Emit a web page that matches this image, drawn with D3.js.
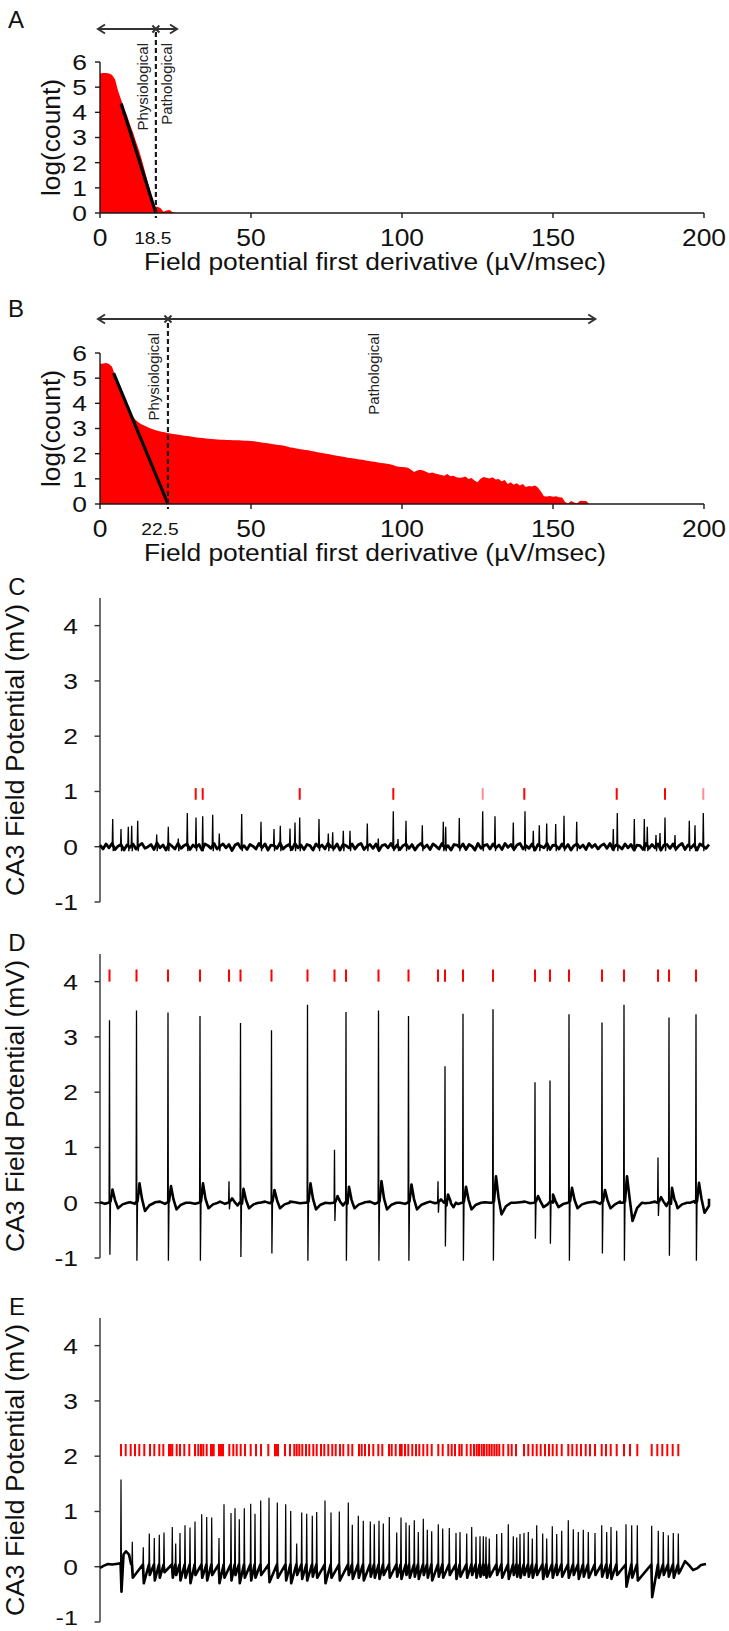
<!DOCTYPE html>
<html><head><meta charset="utf-8">
<script src="https://cdn.jsdelivr.net/npm/d3@7"></script>
<style>body{margin:0;background:#fff}svg{display:block}text{font-family:"Liberation Sans",Arial,sans-serif}</style>
</head><body><svg id="c" width="729" height="1631"></svg>
<script>
// ---------- DATA ----------
// Panel A / B: log(count) per 1 µV/msec bin (bin index = derivative value)
const histA = [5.54,5.56,5.56,5.54,5.48,5.3,4.85,4.5,4.15,3.85,3.5,3.18,2.8,2.45,2.05,1.6,1.15,0.7,0.25,0.25,0.2,0.05,0.1,0.12,0.04,0];
const histB = [5.56,5.58,5.6,5.56,5.45,5.09,4.8,4.5,4.2,3.9,
 3.65,3.45,3.32,3.22,3.15,3.1,3.04,2.99,2.95,2.91,
 2.88,2.86,2.83,2.81,2.78,2.77,2.75,2.73,2.71,2.7,
 2.68,2.66,2.64,2.63,2.62,2.6,2.59,2.58,2.57,2.56,
 2.55,2.55,2.54,2.54,2.53,2.53,2.53,2.52,2.51,2.51,
 2.5,2.49,2.47,2.45,2.43,2.42,2.4,2.38,2.36,2.34,
 2.33,2.31,2.28,2.25,2.24,2.21,2.19,2.17,2.15,2.14,
 2.11,2.09,2.06,2.04,2.02,2.0,1.98,1.95,1.93,1.91,
 1.89,1.87,1.84,1.83,1.81,1.79,1.77,1.76,1.73,1.71,
 1.69,1.68,1.65,1.63,1.62,1.6,1.58,1.55,1.5,1.48,
 1.47,1.46,1.44,1.36,1.27,1.33,1.36,1.33,1.28,1.22,
 1.25,1.21,1.18,1.15,1.12,1.19,1.1,1.12,1.06,1.04,
 1.05,1.09,0.99,1.03,0.93,0.86,1.0,1.07,1.04,1.01,
 1.06,0.97,0.99,0.9,0.95,0.79,0.86,0.76,0.82,0.74,
 0.79,0.68,0.72,0.7,0.74,0.66,0.5,0.31,0.3,0.32,
 0.29,0.31,0.27,0.26,0.08,0.02,0.12,0.06,0.03,0.13,
 0.12,0.12,0];
const fitA = [[7,4.35],[18.5,0]];
const fitB = [[4.5,5.2],[22.5,0]];
const thresholdA = 18.5, thresholdB = 22.5;
const arrowA = [0, 18.5, 25.5];
const arrowB = [0, 22.5, 164];
const histXTicks = [0,50,100,150,200];
const histYTicks = [0,1,2,3,4,5,6];
const xTitle = "Field potential first derivative (µV/msec)";

// Panels C, D, E: time in s, potential in mV
const traceTicks = [-1,0,1,2,3,4];
const traceTitle = "CA3 Field Potential (mV)";

const cNoise = [0.03,-0.04,0.05,-0.02,0.06,-0.05,0.01,0.04,-0.06,0.03,-0.01,0.05,-0.04,0.02,0.06,-0.03,0.00,
0.04,-0.05,0.07,-0.02,0.03,-0.06,0.05,0.01,-0.04,0.06,-0.03,0.02,0.05,-0.05,0.03,-0.01,0.04,
-0.06,0.05,0.02,-0.03,0.06,-0.04,0.01,0.05,-0.02,0.04,-0.07,0.03,0.06,-0.03,0.02,-0.05,0.04,
0.01,-0.04,0.06,-0.02,0.05,-0.06,0.03,0.02,-0.03,0.07,-0.04,0.01,0.04,-0.05,0.06,-0.02,0.03,
-0.05,0.04,0.02,-0.06,0.05,-0.01,0.03,-0.04,0.06,0.00,-0.03,0.05,-0.06,0.04,0.02,-0.02,0.05,
-0.04,0.03,0.06,-0.05,0.01,0.04,-0.03,0.05,-0.07,0.02,0.04,-0.02,0.06,-0.04,0.03,-0.05,0.02,
0.05,-0.03,0.04,-0.06,0.02,0.06,-0.02,0.03,-0.05,0.05,0.01,-0.04,0.06,-0.03,0.02,-0.06,0.04,
0.03,-0.02,0.05,-0.05,0.04,0.01,-0.06,0.06,-0.03,0.02,0.04,-0.04,0.05,-0.02,0.03,-0.05,0.06,
-0.01,0.04,-0.05,0.03,0.06,-0.04,0.02,-0.03,0.05,-0.06,0.04,0.01,-0.02,0.06,-0.05,0.03,0.02,
-0.04,0.05,-0.03,0.04,-0.06,0.02,0.05,-0.02,0.03,-0.05,0.06,-0.01,0.04,-0.04,0.02,0.05,-0.03,
0.06,-0.05,0.03,0.01,-0.04,0.05,-0.02,0.04,-0.06,0.03,0.02,-0.05,0.06,-0.03,0.04,-0.02,0.05,
-0.06,0.03,0.04,-0.03,0.05,-0.04,0.02,0.06,-0.05,0.03,-0.02,0.04,-0.06,0.05,0.01,-0.03,0.04];
const cNoiseStep = 0.3;
const cSpikeT = [1.27,2.1,2.83,3.17,3.77,5.67,6.83,7.83,8.73,9.6,10.27,11.27,11.93,14.17,16.1,17.4,18.03,19.0,19.5,19.97,21.9,22.83,23.27,24.33,25.0,26.73,27.83,29.33,29.8,
 30.6,32.23,34.33,34.57,35.93,38.27,39.5,41.33,42.5,43.33,43.93,44.67,45.57,46.4,47.67,51.33,51.73,53.43,54.43,54.73,55.6,56.0,56.5,57.5,58.93,59.5,60.33];
const cPeak = [0.5,0.32,0.36,0.38,0.47,0.22,0.36,0.15,0.61,0.53,0.55,0.58,0.24,0.59,0.45,0.32,0.38,0.33,0.44,0.53,0.5,0.24,0.26,0.29,0.29,0.42,0.15,0.64,0.14,
 0.47,0.39,0.45,0.36,0.52,0.64,0.55,0.44,0.64,0.29,0.39,0.42,0.41,0.56,0.45,0.32,0.61,0.5,0.5,0.36,0.21,0.25,0.53,0.21,0.47,0.39,0.61];
const cMarks = [9.57,10.27,19.97,29.33,42.43,51.67,56.5];
const cMarksFaint = [38.27,60.33];

const dNoise = [0.01,-0.02,0.02,0.0,-0.01,0.02,0.01,-0.02,0.0,0.02,
 -0.01,0.01,0.02,-0.02,0.0,0.01,-0.01,0.02,0.0,-0.02,
 0.01,0.02,-0.01,0.0,0.02,-0.02,0.01,0.0,-0.01,0.02,
 0.01,-0.02,0.0,0.02,-0.01,0.01,0.0,-0.02,0.02,0.01,
 -0.01,0.0,0.02,-0.02,0.01,0.02,-0.01,0.0,0.01,-0.02,
 0.02,0.0,-0.01,0.01,0.02,-0.02,0.0,0.01,-0.01,0.02,
 0.0,-0.02,0.01,0.02,-0.01,0.0,0.02,-0.01,0.01,0.0,
 -0.02,0.02,0.01,-0.01,0.0,0.02,-0.02,0.01,0.0,-0.01,
 0.02,0.01,-0.02,0.0,0.01,0.02,-0.01,0.0,-0.02,0.01,
 0.02,-0.01,0.0,0.01,-0.02,0.02,0.0,-0.01,0.01,0.02,
 -0.02,0.0,0.01,-0.01,0.02,0.0,-0.02,0.01,0.02,-0.01,
 0.0,0.02,-0.01,0.01,0.0,-0.02,0.01,0.02,0.0,0.03,
 0.05,0.08];
const dNoiseStep = 0.5;
const dSpikeT = [0.95,3.65,6.8,10.0,12.9,14.05,17.15,20.75,23.45,24.6,27.85,30.85,33.8,34.5,36.3,39.3,43.5,45.0,46.9,50.2,52.4,55.8,56.9,59.6];
const dPeak = [3.30,3.48,3.44,3.38,0.39,3.25,3.12,3.58,0.96,3.45,3.48,3.38,0.39,2.47,3.42,3.50,2.18,2.21,3.41,3.26,3.58,0.82,3.35,3.41];
const dTrough = [-0.94,-1.05,-1.05,-1.05,-0.12,-0.98,-0.92,-1.05,-0.33,-1.05,-1.05,-1.05,-0.18,-0.79,-1.05,-1.05,-0.65,-0.74,-1.05,-0.92,-1.05,-0.24,-0.96,-1.05];
const dBump = [0.24,0.35,0.3,0.35,0.08,0.25,0.23,0.35,0.12,0.29,0.39,0.33,0.06,0.15,0.29,0.48,0.12,0.15,0.27,0.23,0.48,0.1,0.27,0.36];
const dDip = [-0.1,-0.15,-0.12,-0.1,-0.05,-0.1,-0.1,-0.12,-0.05,-0.1,-0.12,-0.12,-0.05,-0.08,-0.12,-0.21,-0.08,-0.08,-0.1,-0.1,-0.33,-0.06,-0.1,-0.18];
const dMarks = [0.95,3.65,6.8,10.0,12.9,14.05,17.15,20.75,23.45,24.6,27.85,30.85,33.8,34.5,36.3,39.3,43.5,45.0,46.9,50.2,52.4,55.8,56.9,59.6];
const dEnd = [60.9, 0.07];

const eBase = [[0,-0.02],[0.4,0.02],[0.8,0.05],[1.2,0.04],[1.6,0.05],[2.0,0.06],[2.35,0.22],[2.6,0.28],[2.9,0.22],[3.1,0.05],
 [58.1,-0.05],[58.5,0.1],[58.9,0.03],[59.3,-0.06],[59.7,-0.03],[60.1,0.03],[60.6,0.05]];
const eSpikeT = [2.1,3.23,4.33,4.93,5.43,5.93,6.4,7.23,7.57,8.0,8.5,9.0,9.5,10.17,10.67,11.17,11.9,12.4,13.1,13.5,13.93,14.43,15.07,15.5,16.07,16.9,17.73,18.57,19.07,19.67,20.17,20.67,21.23,21.67,22.5,23.1,23.93,24.83,25.23,25.83,26.33,27.03,27.43,27.9,28.33,28.93,29.67,30.1,
 30.6,30.93,31.43,31.83,32.33,32.73,33.17,33.83,34.27,34.93,35.6,36.0,36.67,37.17,37.6,38.0,38.33,38.6,38.93,39.67,40.17,40.83,41.33,41.67,42.0,42.4,42.83,43.23,43.67,44.27,44.67,45.23,45.67,46.17,46.83,47.33,47.83,48.33,48.83,49.5,50.17,50.67,51.1,51.67,52.6,53.17,53.73,55.17,55.83,56.33,56.83,57.33,57.83];
const ePeak = [1.58,0.45,0.35,0.6,0.52,0.58,0.62,0.72,0.42,0.61,0.75,0.71,0.82,0.95,0.9,0.89,0.52,1.13,0.97,1.06,0.86,1.06,1.14,0.96,1.2,1.25,1.16,1.13,1.01,0.42,0.98,0.96,0.92,0.99,1.2,0.98,1.0,1.16,0.76,0.92,0.83,0.82,0.77,0.83,0.78,0.9,0.62,0.89,
 0.8,0.75,0.84,0.63,0.87,0.67,0.64,0.77,0.69,0.7,0.61,0.63,0.6,0.72,0.54,0.55,0.55,0.54,0.51,0.59,0.61,0.77,0.55,0.53,0.59,0.61,0.63,0.51,0.75,0.6,0.51,0.73,0.59,0.65,0.84,0.68,0.63,0.67,0.63,0.61,0.75,0.63,0.72,0.65,0.77,0.75,0.75,0.74,0.65,0.63,0.57,0.61,0.6];
const eTrough = [-0.45,-0.2,-0.3,-0.15,-0.25,-0.2,-0.1,-0.2,-0.15,-0.25,-0.2,-0.3,-0.15,-0.2,-0.25,-0.15,-0.3,-0.2,-0.25,-0.15,-0.3,-0.2,-0.25,-0.2,-0.15,-0.28,-0.2,-0.25,-0.3,-0.15,-0.22,-0.25,-0.18,-0.2,-0.3,-0.2,-0.25,-0.15,-0.22,-0.2,-0.25,-0.18,-0.2,-0.22,-0.15,-0.2,-0.18,-0.22,
 -0.15,-0.2,-0.18,-0.22,-0.15,-0.2,-0.25,-0.18,-0.2,-0.15,-0.22,-0.18,-0.2,-0.15,-0.2,-0.18,-0.15,-0.2,-0.18,-0.15,-0.2,-0.22,-0.15,-0.18,-0.2,-0.15,-0.18,-0.2,-0.15,-0.22,-0.18,-0.2,-0.15,-0.18,-0.2,-0.15,-0.22,-0.18,-0.2,-0.15,-0.18,-0.2,-0.22,-0.15,-0.36,-0.2,-0.25,-0.55,-0.2,-0.15,-0.18,-0.2,-0.12];
const eMarks = [2.1,2.57,3.07,3.5,3.93,4.43,5.0,5.43,5.93,6.33,6.9,7.07,7.23,7.67,8.0,8.43,8.93,9.5,9.83,10.1,10.33,10.67,11.1,11.23,11.37,11.9,12.1,12.3,12.93,13.33,13.67,14.07,14.5,15.07,15.6,16.1,16.83,17.5,17.67,17.8,18.5,19.0,19.43,19.67,19.93,20.23,20.6,20.93,21.33,21.67,22.1,22.43,22.83,23.23,23.57,24.0,24.33,24.83,25.23,25.9,26.17,26.5,26.9,27.33,27.83,28.23,28.9,29.17,29.57,30.0,30.17,30.5,
 30.83,31.23,31.6,31.93,32.33,32.73,33.17,33.83,34.27,34.83,35.17,35.5,35.93,36.17,36.67,37.07,37.4,37.67,37.9,38.17,38.4,38.67,38.93,39.17,39.43,39.67,39.93,40.33,40.83,41.17,41.6,42.4,42.83,43.27,43.67,44.07,44.5,44.9,45.27,45.67,46.17,46.83,47.23,47.67,48.1,48.57,49.0,49.5,50.17,50.6,51.07,51.67,52.4,53.0,53.73,55.17,55.73,56.23,56.73,57.27,57.83];

// ---------- DRAWING ----------
const svg = d3.select("#c");
const LETTER = '"Open Sans","Liberation Sans",sans-serif';
const INK = "#1a1a1a";

function stretch(sel, sx) {
  sel.attr("transform", function() {
    const x = +this.getAttribute("x"), y = +this.getAttribute("y");
    return `translate(${x},${y}) scale(${sx},1) translate(${-x},${-y})`;
  });
}

function histPanel(o) {
  const x = d3.scaleLinear().domain([0,200]).range([100,704]);
  const y = d3.scaleLinear().domain([0,6]).range([o.y0, o.y0 - 151]);
  const g = svg.append("g");
  g.append("path").datum(o.hist).attr("fill","#ff0000")
    .attr("d", d3.area().x((d,i)=>x(i)).y0(y(0)).y1(d=>y(d)));
  g.append("path").datum(o.fit).attr("fill","none").attr("stroke","#000").attr("stroke-width",3.2)
    .attr("d", d3.line().x(d=>x(d[0])).y(d=>y(d[1])));
  g.append("line").attr("x1",x(o.thr)).attr("x2",x(o.thr)).attr("y1",o.dashTop).attr("y2",y(0)+5)
    .attr("stroke",INK).attr("stroke-width",2.2).attr("stroke-dasharray","5,3");
  g.append("line").attr("x1",100).attr("x2",100).attr("y1",y(6)).attr("y2",y(0)).attr("stroke",INK).attr("stroke-width",1.4);
  g.append("line").attr("x1",100).attr("x2",x(200)).attr("y1",y(0)).attr("y2",y(0)).attr("stroke",INK).attr("stroke-width",1.4);
  histYTicks.forEach(v => {
    g.append("line").attr("x1",95).attr("x2",100).attr("y1",y(v)).attr("y2",y(v)).attr("stroke",INK).attr("stroke-width",1.4);
    g.append("text").attr("x",87).attr("y",y(v)).attr("dy","0.36em").attr("text-anchor","end")
      .attr("font-size",22).attr("fill","#111").text(v).call(stretch,1.2);
  });
  histXTicks.forEach(v => {
    g.append("line").attr("x1",x(v)).attr("x2",x(v)).attr("y1",y(0)).attr("y2",y(0)+5).attr("stroke",INK).attr("stroke-width",1.4);
    g.append("text").attr("x",x(v)).attr("y",y(0)+33).attr("text-anchor","middle")
      .attr("font-size",23).attr("fill","#111").text(v).call(stretch,1.15);
  });
  g.append("text").attr("x",x(o.thr)+o.thrLabelDx).attr("y",y(0)+31).attr("text-anchor","middle")
    .attr("font-size",16).attr("fill","#111").text(o.thr).call(stretch,1.2);
  g.append("text").attr("x",375).attr("y",y(0)+57).attr("text-anchor","middle").attr("font-size",23.5)
    .attr("textLength",462).attr("lengthAdjust","spacingAndGlyphs").attr("fill","#111").text(xTitle);
  g.append("text").attr("transform",`translate(60,${(y(0)+y(6))/2}) rotate(-90)`).attr("text-anchor","middle")
    .attr("font-size",25).attr("textLength",117).attr("lengthAdjust","spacingAndGlyphs").attr("fill","#111").text("log(count)");
  const ay = o.arrowY, [a0,a1,a2] = o.arrow;
  const ag = g.append("g").attr("stroke","#333").attr("stroke-width",2).attr("fill","none");
  ag.append("line").attr("x1",x(a0)-2).attr("x2",x(a2)).attr("y1",ay).attr("y2",ay);
  ag.append("path").attr("d",`M${x(a0)+5},${ay-4.5}L${x(a0)-2},${ay}L${x(a0)+5},${ay+4.5}`);
  ag.append("path").attr("d",`M${x(a2)-7},${ay-4.5}L${x(a2)},${ay}L${x(a2)-7},${ay+4.5}`);
  ag.append("path").attr("d",`M${x(a1)-3.5},${ay-3.5}L${x(a1)+3.5},${ay+3.5}M${x(a1)-3.5},${ay+3.5}L${x(a1)+3.5},${ay-3.5}`);
  [["Physiological",o.physAt],["Pathological",o.pathAt]].forEach(([t,v]) => {
    g.append("text").attr("transform",`translate(${x(v)},${o.labelTop}) rotate(-90)`).attr("text-anchor","end")
      .attr("font-size",15).attr("fill","#222").text(t);
  });
  g.append("text").attr("x",16).attr("y",o.letterY).attr("text-anchor","middle").attr("font-family",LETTER)
    .attr("font-size",24).attr("fill","#111").text(o.letter);
}

histPanel({hist:histA, fit:fitA, thr:thresholdA, arrow:arrowA, y0:213, dashTop:32, arrowY:29,
  labelTop:43, physAt:16, pathAt:23.8, thrLabelDx:-3, letter:"A", letterY:28});
histPanel({hist:histB, fit:fitB, thr:thresholdB, arrow:arrowB, y0:504, dashTop:323, arrowY:319,
  labelTop:333, physAt:19.5, pathAt:92.5, thrLabelDx:-8, letter:"B", letterY:317});

// ---------- TRACES ----------
const tx = d3.scaleLinear().domain([0,60.9]).range([100,709]);
const yTrace = b => d3.scaleLinear().domain([-1,4.5]).range([b, b-304]);
const yC = yTrace(902), yD = yTrace(1258), yE = yTrace(1622);
const line = y => d3.line().x(d=>tx(d[0])).y(d=>y(d[1]));

function traceAxis(y, letter) {
  const g = svg.append("g");
  g.append("line").attr("x1",100).attr("x2",100).attr("y1",y(4.5)).attr("y2",y(-1)).attr("stroke","#333").attr("stroke-width",1.4);
  traceTicks.forEach(v => {
    g.append("line").attr("x1",94.5).attr("x2",100).attr("y1",y(v)).attr("y2",y(v)).attr("stroke","#333").attr("stroke-width",1.4);
    const last = v === -1 && letter === "E";
    g.append("text").attr("x",78).attr("y",y(v)).attr("dy", last ? "0.12em" : "0.36em").attr("text-anchor","end")
      .attr("font-size",last ? 21 : 22).attr("fill","#111").text(v).call(stretch,1.2);
  });
  const yc = (y(4.5)+y(-1))/2;
  g.append("text").attr("transform",`translate(24,${yc}) rotate(-90)`).attr("text-anchor","middle").attr("font-size",25)
    .attr("textLength",292).attr("lengthAdjust","spacingAndGlyphs").attr("fill","#111").text(traceTitle);
  g.append("text").attr("x",17).attr("y",y(4.5)-3).attr("text-anchor","middle").attr("font-family",LETTER)
    .attr("font-size",24).attr("fill","#111").text(letter);
}
function marks(y, arr, lo, hi, op) {
  svg.append("g").selectAll("line").data(arr).join("line")
    .attr("x1",d=>tx(d)).attr("x2",d=>tx(d)).attr("y1",y(lo)).attr("y2",y(hi))
    .attr("stroke","#ff0000").attr("stroke-width",2).attr("opacity",op);
}

// C
traceAxis(yC, "C");
{
  const base = cNoise.map((v,i)=>[i*cNoiseStep, v]);
  svg.append("path").datum(base).attr("fill","none").attr("stroke","#000").attr("stroke-width",2.8)
    .attr("stroke-linejoin","round").attr("d",line(yC));
  const spikes = cSpikeT.map((t,i)=>[[t-0.05,0],[t,cPeak[i]],[t+0.05,-0.08],[t+0.1,0]]);
  svg.append("g").selectAll("path").data(spikes).join("path").attr("fill","none").attr("stroke","#000")
    .attr("stroke-width",1.3).attr("d",line(yC));
  marks(yC, cMarks, 0.85, 1.06, 1);
  marks(yC, cMarksFaint, 0.85, 1.06, 0.45);
}

// D
traceAxis(yD, "D");
{
  let pts = dNoise.map((v,i)=>[i*dNoiseStep, v])
    .filter(p => !dSpikeT.some(t => p[0] > t-0.1 && p[0] < t+1.8));
  dSpikeT.forEach((t,i) => {
    pts.push([t-0.1,0],[t+0.1,0.02],[t+0.3,dBump[i]],[t+0.55,dBump[i]*0.2],[t+0.85,dDip[i]],[t+1.3,dDip[i]*0.3],[t+1.8,0]);
  });
  pts = pts.filter(p => p[0] <= dEnd[0]);
  pts.push(dEnd);
  pts.sort((a,b)=>a[0]-b[0]);
  svg.append("path").datum(pts).attr("fill","none").attr("stroke","#000").attr("stroke-width",2.6)
    .attr("stroke-linejoin","round").attr("d",line(yD));
  const spikes = dSpikeT.map((t,i)=>[[t-0.04,0],[t,dPeak[i]],[t+0.04,dTrough[i]],[t+0.1,0]]);
  svg.append("g").selectAll("path").data(spikes).join("path").attr("fill","none").attr("stroke","#000")
    .attr("stroke-width",1.3).attr("d",line(yD));
  marks(yD, dMarks, 4.0, 4.22, 1);
}

// E
traceAxis(yE, "E");
{
  let pts = eBase.slice();
  eSpikeT.forEach((t,i) => { pts.push([t-0.04,0.04],[t+0.05,eTrough[i]]); });
  pts.sort((a,b)=>a[0]-b[0]);
  svg.append("path").datum(pts).attr("fill","none").attr("stroke","#000").attr("stroke-width",2.6)
    .attr("stroke-linejoin","round").attr("d",line(yE));
  const spikes = eSpikeT.map((t,i)=>[[t-0.04,0.04],[t,ePeak[i]],[t+0.05,eTrough[i]]]);
  svg.append("g").selectAll("path").data(spikes).join("path").attr("fill","none").attr("stroke","#000")
    .attr("stroke-width",1.2).attr("d",line(yE));
  marks(yE, eMarks, 2.0, 2.22, 1);
}
</script></body></html>
